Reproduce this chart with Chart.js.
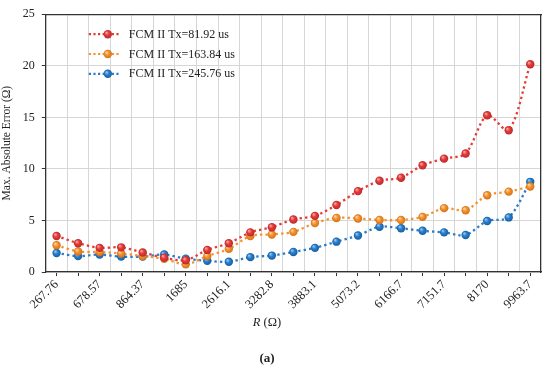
<!DOCTYPE html>
<html>
<head>
<meta charset="utf-8">
<script src="https://cdn.jsdelivr.net/npm/chart.js@4/dist/chart.umd.min.js"></script>
<style>
  html, body { margin: 0; padding: 0; background: #fff; }
  #wrap { position: relative; width: 550px; height: 369px; }
  #c { position: absolute; left: 0; top: 0; }
  .lbl { position: absolute; font-family: 'Liberation Serif', serif; color: #222; white-space: nowrap; transform: translate(-50%, -50%); }
</style>
</head>
<body>
<div id="wrap">
  <canvas id="c" width="550" height="369"></canvas>
  <div class="lbl" style="left:267px; top:322px; font-size:12.5px;"><i>R</i> (Ω)</div>
  <div class="lbl" style="left:267px; top:358px; font-size:13px; font-weight:bold;">(a)</div>
</div>
<script>
// Tick labels shown on the x axis (every other category)
const tickLabels = ['267.76','678.57','864.37','1685','2616.1','3282.8','3883.1','5073.2','6166.7','7151.7','8170','9963.7'];
// 23 categories: labelled ones at even indices
const categories = [];
for (let i = 0; i < 23; i++) categories.push(i % 2 === 0 ? tickLabels[i / 2] : '');

const seriesNames = ['FCM II Tx=81.92 us', 'FCM II Tx=163.84 us', 'FCM II Tx=245.76 us'];
const tx81 = [3.5, 2.8, 2.35, 2.4, 1.9, 1.4, 1.15, 2.15, 2.8, 3.85, 4.35, 5.1, 5.45, 6.5, 7.85, 8.85, 9.15, 10.35, 11.0, 11.5, 15.2, 13.75, 20.15];
const tx163 = [2.6, 2.0, 1.95, 1.8, 1.55, 1.3, 0.75, 1.55, 2.25, 3.5, 3.65, 3.9, 4.75, 5.25, 5.2, 5.05, 5.05, 5.35, 6.2, 6.0, 7.45, 7.8, 8.3];
const tx245 = [1.85, 1.55, 1.7, 1.5, 1.5, 1.7, 1.3, 1.1, 1.0, 1.45, 1.6, 1.95, 2.35, 2.95, 3.55, 4.4, 4.25, 4.0, 3.85, 3.6, 4.95, 5.3, 8.75];
const yTicks = [0, 5, 10, 15, 20, 25];

const lineColors = ['#e63a35', '#f5922c', '#2a7ccc'];
const ballLight = ['#f6a0a0', '#ffd09a', '#8fc4f0'];
const ballDark = ['#b82a30', '#d2701a', '#14609f'];

const FONT = "'Liberation Serif', serif";

function ballFill(c, x, y, r, i) {
  const g = c.createRadialGradient(x - r * 0.35, y - r * 0.4, r * 0.1, x, y, r);
  g.addColorStop(0, ballLight[i]);
  g.addColorStop(0.45, lineColors[i]);
  g.addColorStop(1, ballDark[i]);
  return g;
}

function pointBg(ctx) {
  const chart = ctx.chart;
  const i = ctx.datasetIndex;
  const xs = chart.scales.x, ys = chart.scales.y;
  if (!xs || !ys || ctx.parsed == null) return lineColors[i];
  const x = xs.getPixelForValue(ctx.dataIndex);
  const y = ys.getPixelForValue(ctx.parsed.y);
  if (!isFinite(x) || !isFinite(y)) return lineColors[i];
  return ballFill(chart.ctx, x, y, 4.2, i);
}

const legendPlugin = {
  id: 'insideLegend',
  afterDatasetsDraw(chart) {
    const c = chart.ctx;
    const a = chart.chartArea;
    c.save();
    for (let i = 0; i < 3; i++) {
      const y = a.top + 20 + i * 19.8;
      const x0 = a.left + 43;
      c.beginPath();
      c.setLineDash([2.2, 2.4]);
      c.lineWidth = 2.2;
      c.strokeStyle = lineColors[i];
      c.moveTo(x0, y);
      c.lineTo(x0 + 32, y);
      c.stroke();
      c.setLineDash([]);
      c.beginPath();
      c.arc(x0 + 19, y, 4.2, 0, Math.PI * 2);
      c.fillStyle = ballFill(c, x0 + 19, y, 4.2, i);
      c.fill();
      c.fillStyle = '#222';
      c.font = '12px ' + FONT;
      c.textBaseline = 'middle';
      c.textAlign = 'left';
      c.fillText(seriesNames[i], x0 + 40, y + 0.5);
    }
    c.restore();
  }
};

const ds = [tx81, tx163, tx245].map((d, i) => ({
  label: seriesNames[i],
  data: d,
  order: i,
  borderColor: lineColors[i],
  borderWidth: 2.3,
  borderDash: [2.3, 3],
  borderCapStyle: 'butt',
  tension: 0.3,
  fill: false,
  pointRadius: 4.2,
  pointHoverRadius: 4.2,
  pointBorderWidth: 0,
  pointBackgroundColor: pointBg,
  pointBorderColor: 'rgba(0,0,0,0)'
}));

new Chart(document.getElementById('c'), {
  type: 'line',
  data: { labels: categories, datasets: ds },
  plugins: [legendPlugin],
  options: {
    responsive: false,
    animation: false,
    layout: { padding: { left: 0, right: 9, top: 8, bottom: 56 } },
    plugins: { legend: { display: false }, tooltip: { enabled: false } },
    scales: {
      x: {
        type: 'category',
        position: 'bottom',
        offset: true,
        grid: { offset: false, drawOnChartArea: false, drawTicks: true, tickLength: 4, tickColor: '#333', tickWidth: 1 },
        border: { display: true, color: '#333', width: 1.3 },
        ticks: {
          autoSkip: false, maxRotation: 45, minRotation: 45, padding: 1,
          color: '#222', font: { family: FONT, size: 12.5 }
        }
      },
      x2: {
        type: 'category',
        position: 'top',
        labels: categories,
        offset: true,
        grid: { offset: true, color: '#d6d6d6', lineWidth: 1, borderDash: [4, 3], drawTicks: false },
        border: { display: true, color: '#333', width: 1.3 },
        ticks: { display: false }
      },
      y: {
        min: 0, max: 25,
        afterBuildTicks(scale) { scale.ticks = yTicks.map(v => ({ value: v })); },
        grid: { color: '#d6d6d6', lineWidth: 1, borderDash: [4, 3], tickLength: 4, tickColor: '#333', tickBorderDash: [], tickWidth: 1 },
        border: { display: true, color: '#333', width: 1.3 },
        ticks: { color: '#222', padding: 7, font: { family: FONT, size: 12 } },
        title: { display: true, text: 'Max. Absolute Error (Ω)', color: '#222', font: { family: FONT, size: 11.5 }, padding: { top: 0, bottom: 2 } }
      },
      y2: {
        position: 'right',
        min: 0, max: 25,
        grid: { drawOnChartArea: false, drawTicks: false },
        border: { display: true, color: '#333', width: 1.3 },
        ticks: { display: false }
      }
    }
  }
});
</script>
</body>
</html>
